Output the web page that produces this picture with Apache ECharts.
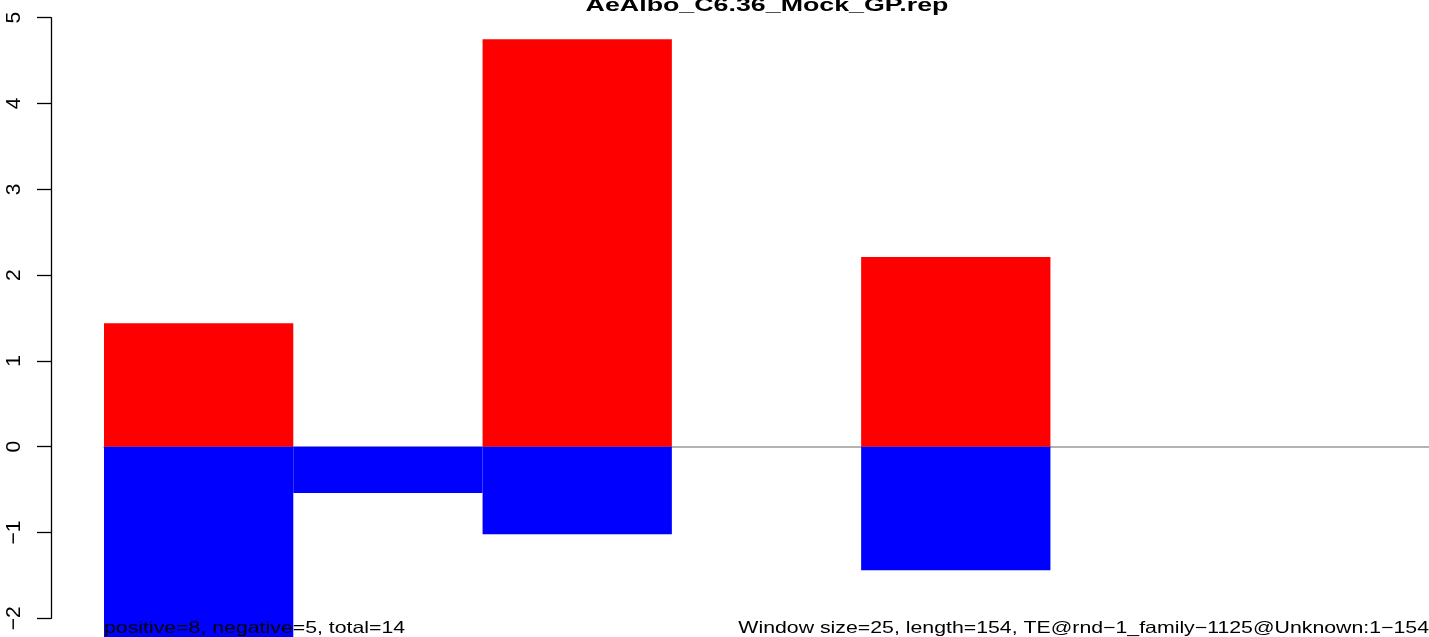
<!DOCTYPE html>
<html>
<head>
<meta charset="utf-8">
<script src="https://cdn.jsdelivr.net/npm/echarts@6/dist/echarts.min.js"></script>
<style>
html,body{margin:0;padding:0;background:#fff;}
#chart{width:1429px;height:637px;}
</style>
</head>
<body>
<div id="chart"></div>
<script>
const titleText = 'AeAlbo_C6.36_Mock_GP.rep';
const categories = ['1', '2', '3', '4', '5', '6', '7'];
const positiveValues = [1.44, null, 4.75, null, 2.21, null, null];
const negativeValues = [-2.6, -0.54, -1.02, null, -1.44, null, null];
const yTicks = [-2, -1, 0, 1, 2, 3, 4, 5];
const leftNote = 'positive=8, negative=5, total=14';
const rightNote = 'Window size=25, length=154, TE@rnd\u22121_family\u22121125@Unknown:1\u2212154';

const FONT = 'Liberation Sans, Arial, Helvetica, sans-serif';
const chart = echarts.init(document.getElementById('chart'));
chart.setOption({
  animation: false,
  backgroundColor: '#ffffff',
  grid: { left: 104, right: 0, top: 17.7, bottom: 18.7, containLabel: false },
  xAxis: {
    type: 'category',
    data: categories,
    boundaryGap: true,
    axisLine: { show: true, onZero: true, lineStyle: { color: '#9a9a9a', width: 1.5 } },
    axisTick: { show: false },
    axisLabel: { show: false },
    splitLine: { show: false }
  },
  yAxis: {
    type: 'value',
    min: yTicks[0],
    max: yTicks[yTicks.length - 1],
    interval: 1,
    offset: 53,
    axisLine: { show: true, lineStyle: { color: '#000', width: 1.3 } },
    axisTick: { show: true, inside: false, length: 14, lineStyle: { color: '#000', width: 1.3 } },
    axisLabel: {
      show: true, rotate: 90, margin: 26,
      fontFamily: FONT, fontSize: 21, color: '#000',
      formatter: v => (v < 0 ? '\u2212' + Math.abs(v) : String(v))
    },
    splitLine: { show: false }
  },
  series: [
    {
      name: 'positive', type: 'bar', stack: 'w', data: positiveValues,
      barWidth: '100%', barCategoryGap: 0,
      itemStyle: { color: '#ff0000' }, clip: false, z: 3
    },
    {
      name: 'negative', type: 'bar', stack: 'w', data: negativeValues,
      barWidth: '100%', barCategoryGap: 0,
      itemStyle: { color: '#0000ff' }, clip: false, z: 3
    }
  ],
  graphic: [
    {
      type: 'text', x: 767, y: 6, scaleX: 1.41, z: 10,
      style: { text: titleText, font: 'bold 19px ' + FONT, fill: '#000', align: 'center', verticalAlign: 'middle' }
    },
    {
      type: 'text', x: 104, y: 628.5, scaleX: 1.29, z: 10,
      style: { text: leftNote, font: '16.5px ' + FONT, fill: '#000', align: 'left', verticalAlign: 'middle' }
    },
    {
      type: 'text', x: 1429, y: 628.5, scaleX: 1.29, z: 10,
      style: { text: rightNote, font: '16.5px ' + FONT, fill: '#000', align: 'right', verticalAlign: 'middle' }
    }
  ]
});
</script>
</body>
</html>
